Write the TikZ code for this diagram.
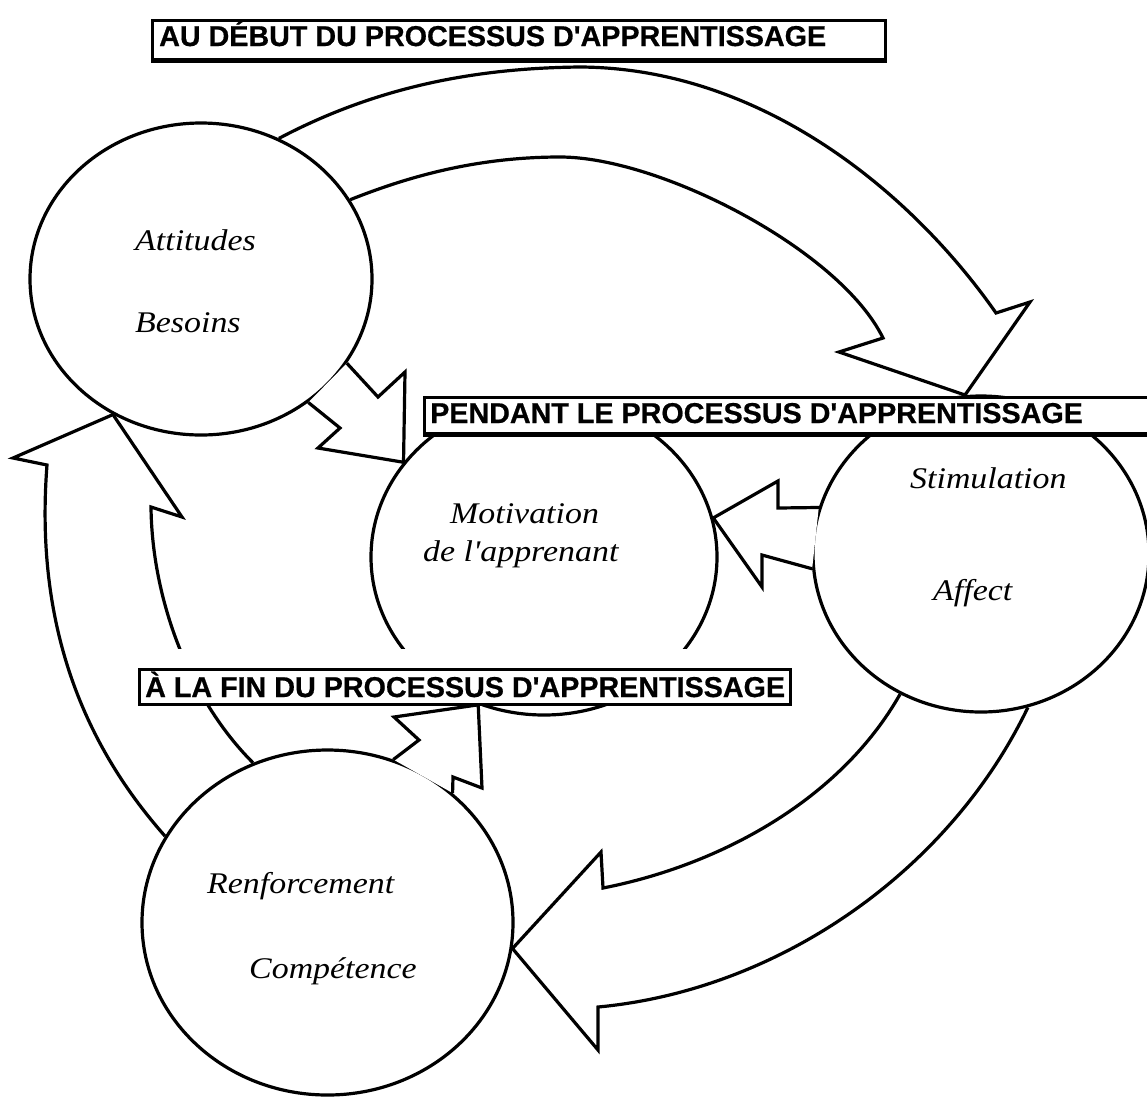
\documentclass[tikz,border=0pt]{standalone}
\usepackage{fontspec}
\usetikzlibrary{shapes.geometric}
\newfontfamily\titlefont{Liberation Sans}[BoldFeatures={FakeBold=0.6}]
\newfontfamily\labelfont{Liberation Serif}
\tikzset{
  circ/.style={draw, ellipse, line width=3.2pt, inner sep=0pt},
  barrow/.style={draw, line width=3.2pt, line join=miter, miter limit=12},
  barrowfill/.style={barrow, fill=white},
  titlebox/.style={draw, line width=2.6pt, fill=white, inner sep=0pt, anchor=north west},
  titletext/.style={anchor=base west, inner sep=0pt, font=\titlefont\bfseries\fontsize{28.7}{30}\selectfont},
  lbl/.style={anchor=base west, inner sep=0pt, font=\labelfont\itshape\fontsize{30}{32}\selectfont}
}
\begin{document}
\begin{tikzpicture}[x=1pt,y=-1pt]
\useasboundingbox (0,0) rectangle (1147,1096);
\fill[white] (0,0) rectangle (1147,1096);

% circles
\node[circ, minimum width=342pt, minimum height=312pt] (A) at (201,279) {};
\node[circ, minimum width=346pt, minimum height=316pt] (M) at (544,557) {};
\node[circ, minimum width=336pt, minimum height=316pt] (S) at (981,554) {};
\node[circ, minimum width=371pt, minimum height=345pt] (R) at (327.5,922.5) {};

% big arrow A -> S (top)
\draw[barrow] (A.61) .. controls (380,85) and (480,68) .. (580,67)
  .. controls (760,68) and (910,190) .. (996,313)
  -- (1030,302) -- (965,395) -- (839,352) -- (883,338)
  .. controls (840,250) and (660,157) .. (560,157)
  .. controls (470,157) and (400,180) .. (A.28);

% short arrow A -> M
\draw[barrowfill] (A.-30) -- (378,397) -- (405,372) -- (M.146) -- (318,448) -- (340,428) -- (A.-49);

% arrow S -> M
\draw[barrowfill] (S.164) -- (778,508) -- (778,481) -- (M.13) -- (762,587) -- (762,555) -- (S.-175);

% big arrow S -> R
\draw[barrow] (S.-120) .. controls (840,800) and (720,865) .. (603,888)
  -- (601,852) -- (R.-8) -- (598,1050) -- (598,1007)
  .. controls (780,990) and (950,870) .. (S.-73);

% short arrow R -> M
\draw[barrowfill] (R.68) -- (419,740) -- (394,717) -- (M.-114) -- (482,788) -- (453,777) -- (R.46);

% big arrow R -> A
\draw[barrow] (R.152) .. controls (80,740) and (35,620) .. (47,465)
  -- (13,458) -- (A.-123) -- (182,517) -- (151,507)
  .. controls (152,600) and (190,700) .. (R.115);

% title boxes
\node[titlebox, minimum width=733pt, minimum height=39pt] (t1) at (151,19) {};
\draw[line width=3.8pt] (t1.south west) -- (t1.south east);
\node[titletext] (t1txt) at (159,46) {AU DÉBUT DU PROCESSUS D\textquotesingle APPRENTISSAGE};

\node[titlebox, minimum width=742pt, minimum height=36pt] (t2) at (423,396) {};
\draw[line width=4.2pt] (t2.south west) -- (t2.south east);
\node[titletext] (t2txt) at (430,423) {PENDANT LE PROCESSUS D\textquotesingle APPRENTISSAGE};

\fill[white] (138,649) rectangle (789,668);
\node[titlebox, minimum width=651pt, minimum height=35pt] (t3) at (138,668) {};
\node[titletext] (t3txt) at (145,697) {À LA FIN DU PROCESSUS D\textquotesingle APPRENTISSAGE};

% labels
\node[lbl] (lA1) at (135,250) {\scalebox{1.13}[1]{Attitudes}};
\node[lbl] (lA2) at (135,332) {\scalebox{1.13}[1]{Besoins}};
\node[lbl] (lM1) at (450,523) {\scalebox{1.13}[1]{Motivation}};
\node[lbl] (lM2) at (423,561) {\scalebox{1.13}[1]{de l\textquotesingle apprenant}};
\node[lbl] (lS1) at (910,488) {\scalebox{1.13}[1]{Stimulation}};
\node[lbl] (lS2) at (933,600) {\scalebox{1.13}[1]{Affect}};
\node[lbl] (lR1) at (207,893) {\scalebox{1.13}[1]{Renforcement}};
\node[lbl] (lR2) at (249,978) {\scalebox{1.13}[1]{Compétence}};
\end{tikzpicture}
\end{document}
